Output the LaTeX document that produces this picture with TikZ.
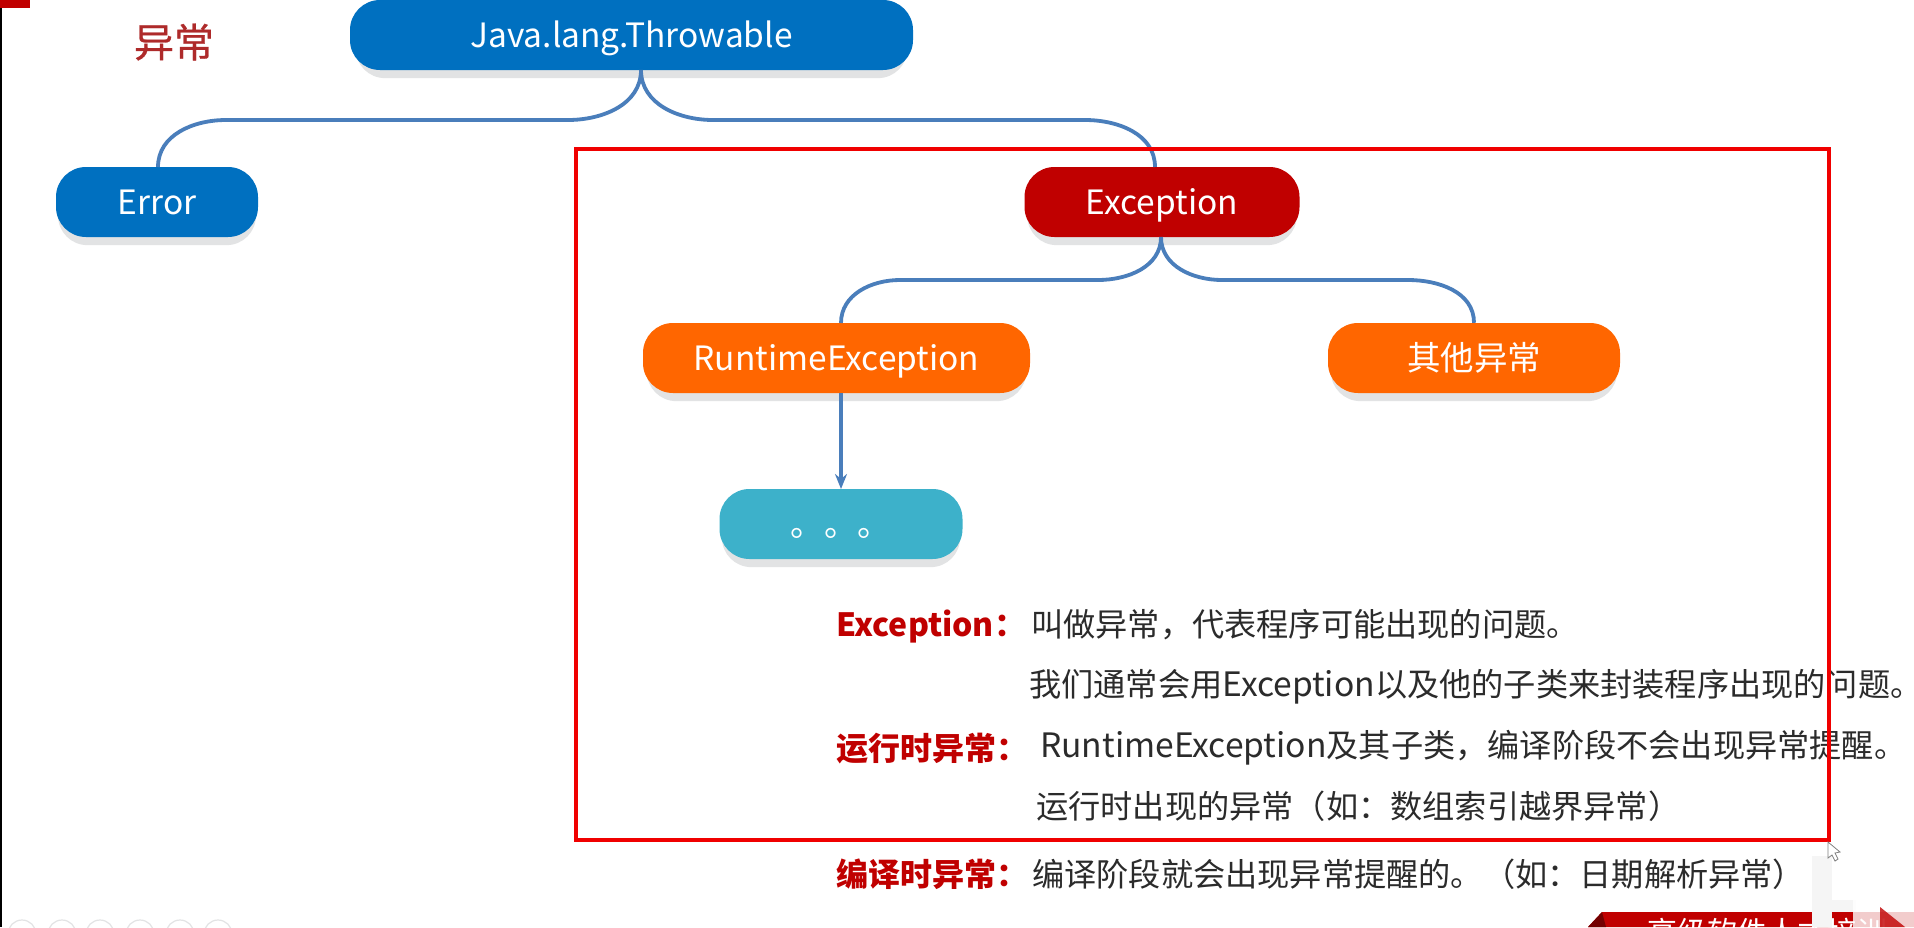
\documentclass[tikz,border=0pt]{standalone}
\usepackage{fontspec}
\usepackage{tikz}
\usetikzlibrary{shadows,arrows.meta}
\setmainfont{Noto Sans CJK SC}
\newfontfamily\titlefont[FakeBold=0.7]{Noto Sans CJK SC}
\definecolor{blueBox}{HTML}{0070C0}
\definecolor{redBox}{HTML}{C00000}
\definecolor{orangeBox}{HTML}{FF6600}
\definecolor{tealBox}{HTML}{3DB1CA}
\definecolor{linkBlue}{HTML}{4A7EBB}
\definecolor{shadowGray}{HTML}{E2E3E4}
\definecolor{titleRed}{HTML}{AE2A2A}
\definecolor{rectRed}{HTML}{F00000}
\definecolor{noteGray}{HTML}{2B2B2B}
\newcommand{\latin}[1]{{\fontsize{33.6}{38}\selectfont #1}}

\begin{document}
\begin{tikzpicture}[x=1pt,y=-1pt,>=stealth,
    box/.style={rounded corners=30pt,minimum height=70pt,inner sep=0pt,text=white,
      text height=30pt,text depth=6pt,font=\fontsize{33.5}{38}\selectfont,
      drop shadow={shadow scale=0.98,shadow xshift=0pt,shadow yshift=-9pt,fill=shadowGray,opacity=1}},
    link/.style={line width=3.8pt,color=linkBlue},
    lead/.style={anchor=west,inner sep=0pt,text=redBox,font=\fontsize{32}{36}\selectfont\bfseries},
    note/.style={anchor=west,inner sep=0pt,text=noteGray,font=\fontsize{32.2}{36}\selectfont}]
  \clip (0,0) rectangle (1914,927);
  \fill[white] (0,0) rectangle (1914,927);
  % slide edge and tab
  \fill[black] (0,0) rectangle (2,927);
  \fill[redBox] (0,0) rectangle (30,8);
  \foreach \cx in {22,62,100,140,180,218}
    \draw[shadowGray,line width=1.2pt] (\cx,934) circle (14);
  % boxes
  \node (title) [inner sep=0pt,text=titleRed,font=\fontsize{40}{44}\titlefont] at (174,42) {异常};
  \node (throwable) [box,fill=blueBox,minimum width=563pt] at (631.5,35) {Java.lang.Throwable};
  \node (error) [box,fill=blueBox,minimum width=202pt] at (157,202) {Error};
  \node (exception) [box,fill=redBox,minimum width=275pt] at (1162,202) {Exception};
  \node (runtime) [box,fill=orangeBox,minimum width=387pt] at (836.5,358) {RuntimeException};
  \node (other) [box,fill=orangeBox,minimum width=292pt] at (1474,358) {其他异常};
  \node (more) [box,fill=tealBox,minimum width=243pt] at (841,524) {。。。};
  % connectors
  \coordinate (throwTap) at (641,70);
  \coordinate (errorTap) at (158,167);
  \coordinate (exceptionIn) at (1155,167);
  \coordinate (exceptionTap) at (1161,237);
  \coordinate (runtimeTap) at (841,323);
  \coordinate (runtimeOut) at (841,393);
  \coordinate (moreIn) at (841,489);
  \draw[link] (throwTap) to[out=-90,in=0] (568,120) -- (226,120) to[out=180,in=90] (errorTap);
  \draw[link] (throwTap) to[out=-90,in=180] (713,120) -- (1085,120) to[out=0,in=90] (exceptionIn);
  \draw[link] (exceptionTap) to[out=-90,in=0] (1098,280) -- (900,280) to[out=180,in=90] (runtimeTap);
  \draw[link] (exceptionTap) to[out=-90,in=180] (1222,280) -- (1408,280) to[out=0,in=90] (other.north);
  \draw[link,->,>={Stealth[length=15pt,width=12pt]}] (runtimeOut) -- (moreIn);
  % notes
  \node (leadA) [lead] at (836,627) {Exception：};
  \node (noteA) [note] at (1031,625) {叫做异常，代表程序可能出现的问题。};
  \node (noteB) [note] at (1029,687) {我们通常会用\latin{Exception}以及他的子类来封装程序出现的问题。};
  \node (leadB) [lead] at (836,749) {运行时异常：};
  \node (noteC) [note] at (1040,748) {\latin{RuntimeException}及其子类，编译阶段不会出现异常提醒。};
  \node (noteD) [note] at (1036,806) {运行时出现的异常（如：数组索引越界异常）};
  \node (leadC) [lead] at (836,874) {编译时异常：};
  \node (noteE) [note] at (1032,874) {编译阶段就会出现异常提醒的。（如：日期解析异常）};
  % frame
  \draw[rectRed,line width=3.2pt] (576,149) rectangle (1829,840);
  % banner
  \fill[redBox] (1602,912) -- (1914,912) -- (1914,927) -- (1588,927) -- cycle;
  \fill[redBox!60!black] (1602,912) -- (1606,927) -- (1588,927) -- cycle;
  \node (banner) [inner sep=0pt,anchor=west,text=white,font=\fontsize{30}{34}\selectfont] at (1647,932) {高级软件人才培训};
  % watermark
  \fill[black!4] (1812,856) rectangle (1832,927);
  \fill[black!4] (1832,900) rectangle (1856,912);
  \fill[white,opacity=0.8,rounded corners=12pt] (1853,886) rectangle (1930,940);
  \fill[redBox,opacity=0.8] (1880,907) -- (1905,927) -- (1880,927) -- cycle;
  % pointer
  \draw[gray,fill=white,line width=0.8pt] (1828,842) -- (1828,858) -- (1832,855) -- (1835,861) -- (1838,859) -- (1835,853) -- (1840,852) -- cycle;
\end{tikzpicture}
\end{document}
